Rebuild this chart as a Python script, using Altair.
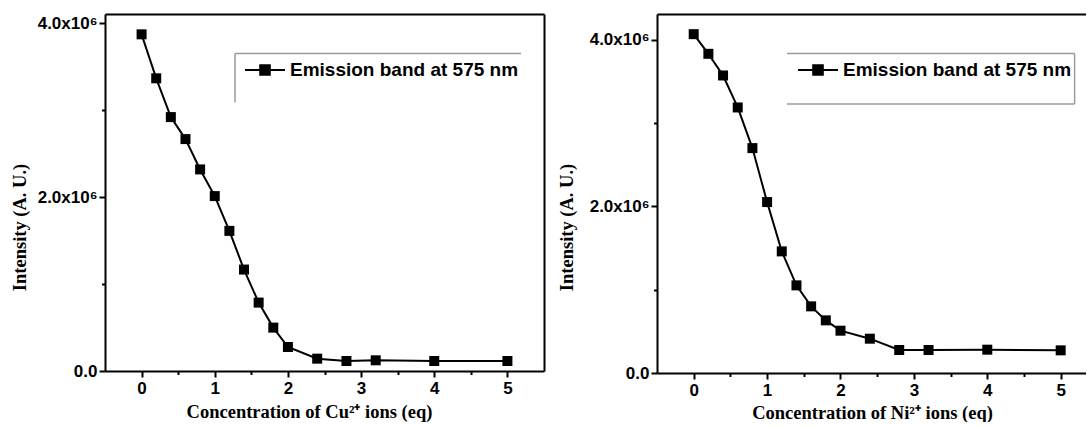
import altair as alt
import pandas as pd

# ---- data ----
conc = [0, 0.2, 0.4, 0.6, 0.8, 1.0, 1.2, 1.4, 1.6, 1.8, 2.0, 2.4, 2.8, 3.2, 4.0, 5.0]
cu_intensity = [3.873e6, 3.367e6, 2.921e6, 2.668e6, 2.319e6, 2.012e6, 1.612e6, 1.167e6,
                0.787e6, 0.499e6, 0.276e6, 0.142e6, 0.115e6, 0.123e6, 0.115e6, 0.115e6]
ni_intensity = [4.068e6, 3.832e6, 3.572e6, 3.188e6, 2.700e6, 2.052e6, 1.460e6, 1.052e6,
                0.800e6, 0.632e6, 0.508e6, 0.412e6, 0.276e6, 0.276e6, 0.280e6, 0.272e6]
series_label = "Emission band at 575 nm"
x_titles = ["Concentration of Cu²⁺ ions (eq)", "Concentration of Ni²⁺ ions (eq)"]
y_title = "Intensity (A. U.)"
x_tick_values = [0, 0.5, 1, 1.5, 2, 2.5, 3, 3.5, 4, 4.5, 5]
y_tick_values = [0, 1e6, 2e6, 3e6, 4e6]

SANS = "Liberation Sans"
SERIF = "Liberation Serif"
LEGEND_PATH = "M-1,0H1M-0.24,-0.24H0.24V0.24H-0.24Z"


def panel(values, xtitle, width, height, xmax, ymax, xt_x, xt_y, yt_x, yt_y,
          right_border, frame_rules, leg_x, leg_y):
    df = pd.DataFrame({"c": conc, "i": values, "s": series_label})
    xscale = alt.Scale(domain=[-0.5, xmax], nice=False, zero=False)
    yscale = alt.Scale(domain=[0, ymax], nice=False, zero=False)

    xaxis = alt.Axis(
        values=x_tick_values,
        labelExpr="datum.value % 1 === 0 ? format(datum.value, 'd') : ''",
        tickSize={"condition": {"test": "datum.value % 1 === 0", "value": 6}, "value": 3.5},
        labelPadding=3,
        title=xtitle, titleX=xt_x, titleY=xt_y, titleBaseline="alphabetic",
        titleAlign="center",
    )
    yaxis = alt.Axis(
        values=y_tick_values,
        labelExpr="datum.value === 0 ? '0.0' : (datum.value % 2000000 === 0 ? format(datum.value / 1000000, '.1f') + 'x10⁶' : '')",
        tickSize={"condition": {"test": "datum.value % 2000000 === 0", "value": 6}, "value": 3.5},
        labelPadding=2,
        title=y_title, titleX=yt_x, titleY=yt_y, titleAngle=270,
        titleBaseline="alphabetic", titleAlign="center",
    )

    base = alt.Chart(df)
    line = base.mark_line(color="black", strokeWidth=2).encode(
        x=alt.X("c:Q", scale=xscale, axis=xaxis),
        y=alt.Y("i:Q", scale=yscale, axis=yaxis),
    )
    squares = base.mark_square(size=100, opacity=1, filled=True).encode(
        x=alt.X("c:Q", scale=xscale, axis=None),
        y=alt.Y("i:Q", scale=yscale, axis=None),
        color=alt.Color(
            "s:N", scale=alt.Scale(range=["black"]),
            legend=alt.Legend(
                orient="none", legendX=leg_x, legendY=leg_y, title=None,
                symbolType=LEGEND_PATH, symbolSize=1600, symbolStrokeWidth=2,
                symbolStrokeColor="black", symbolFillColor="black",
                labelFont=SANS, labelFontSize=19, labelFontWeight="bold",
                labelColor="black", padding=0, labelOffset=4, labelLimit=0,
            ),
        ),
    )
    frame_axis_y = (alt.Axis(orient="right", labels=False, ticks=False, title=None,
                             domainWidth=2, domainColor="black")
                    if right_border else None)
    frame = base.mark_point(opacity=0).encode(
        x=alt.X("c:Q", scale=xscale,
                axis=alt.Axis(orient="top", labels=False, ticks=False, title=None,
                              domainWidth=2, domainColor="black")),
        y=alt.Y("i:Q", scale=yscale, axis=frame_axis_y),
    )
    rules = []
    for (x1, x2, y1, y2) in frame_rules:
        rules.append(
            alt.Chart(df.head(1)).mark_rule(color="#9a9a9a", strokeWidth=1.5).encode(
                x=alt.value(x1), x2=alt.value(x2), y=alt.value(y1), y2=alt.value(y2)
            )
        )
    return alt.layer(line, squares, frame, *rules).resolve_axis(
        x="independent", y="independent"
    ).properties(width=width, height=height)


left = panel(
    cu_intensity, x_titles[0], 439, 357, 5.5, 4.107e6,
    204, 46, -80, 213, True,
    [(130, 416, 39.5, 39.5), (130, 130, 39.5, 88.5)],
    139, 35,
)
right = panel(
    ni_intensity, x_titles[1], 429, 359, 5.345, 4.31e6,
    215, 45, -85, 213, False,
    [(130, 417.6, 39.5, 39.5), (130, 417.6, 90, 90), (417.6, 417.6, 39.5, 90)],
    140, 35,
)

chart = alt.hconcat(left, right, spacing=113, bounds="flush").resolve_scale(
    color="independent"
).resolve_legend(color="independent").properties(
    padding={"left": 10, "top": 14, "right": 0, "bottom": 0}
).configure_view(stroke=None).configure_axis(
    grid=False,
    domainColor="black", domainWidth=2,
    tickColor="black", tickWidth=2,
    labelColor="black", labelFont=SANS, labelFontSize=17, labelFontWeight="bold",
    titleColor="black", titleFont=SERIF, titleFontSize=18.5, titleFontWeight="bold",
)

chart.save("out.html", embed_options={"renderer": "svg", "actions": False})
